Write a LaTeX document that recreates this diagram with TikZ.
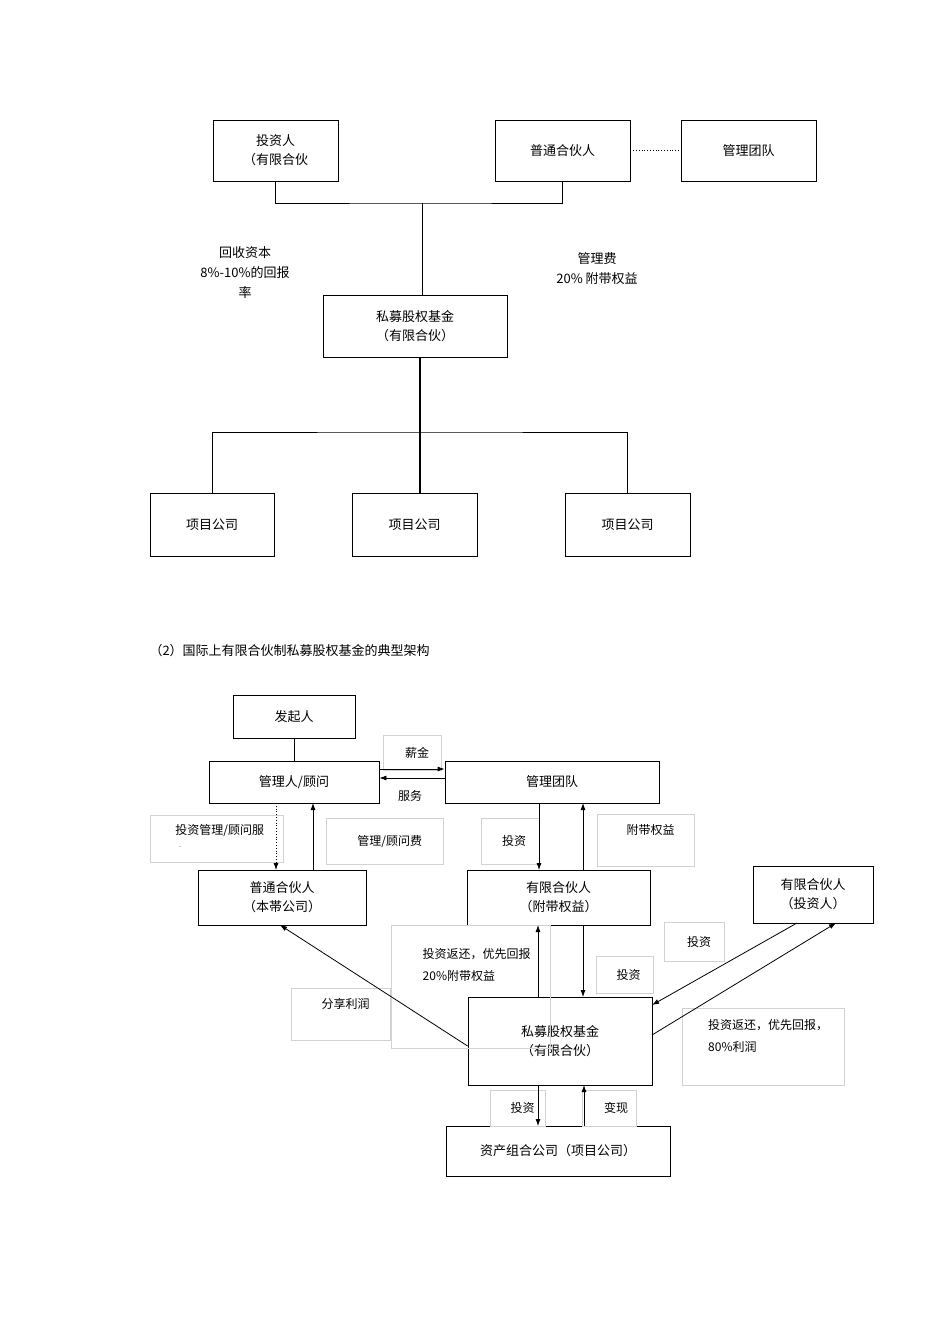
\documentclass[tikz,border=0pt]{standalone}
\usepackage{fontspec}
\setmainfont{Noto Sans CJK SC}
\usetikzlibrary{arrows.meta}
\begin{document}
\begin{tikzpicture}[x=1pt,y=-1pt,
  bx/.style={draw,thick,minimum width=#1,inner sep=0pt,font=\fontsize{13}{19}\selectfont,align=center},
  lb/.style={draw=gray!35,anchor=north west,inner sep=0pt,font=\fontsize{12}{22}\selectfont},
  t/.style={font=\fontsize{13}{20}\selectfont,align=center},
  ar/.style={-{Latex[length=7pt,width=5pt]},thick}]
\useasboundingbox (0,0) rectangle (950,1344);
% top diagram
\node[bx=125pt,minimum height=61pt] (inv) at (275.5,150.5) {投资人\\（有限合伙};
\node[bx=135pt,minimum height=61pt] (gp) at (562.5,150.5) {普通合伙人};
\node[bx=135pt,minimum height=61pt] (mt) at (748.5,150.5) {管理团队};
\draw[dotted,thick] (gp.east) -- (mt.west);
\node[bx=184pt,minimum height=62pt] (fund) at (415,326) {私募股权基金\\（有限合伙）};
\coordinate (j1) at (422,203);
\draw (inv.south) |- (j1) -| (gp.south);
\draw (j1) -- (j1|-fund.north);
\node[t] (l1) at (245,273) {回收资本\\8\%-10\%的回报\\率};
\node[t] (l2) at (597,269) {管理费\\20\% 附带权益};
\node[bx=124pt,minimum height=63pt] (p1) at (212,524.5) {项目公司};
\node[bx=125pt,minimum height=63pt] (p2) at (414.5,524.5) {项目公司};
\node[bx=125pt,minimum height=63pt] (p3) at (627.5,524.5) {项目公司};
\coordinate (j2) at (420,432);
\draw[line width=2pt] (420,357) -- (420,493);
\draw (p1.north) |- (j2) -| (p3.north);
% caption
\node[anchor=west,font=\fontsize{13}{15}\selectfont] (cap) at (146,651) {（2）国际上有限合伙制私募股权基金的典型架构};
% bottom diagram
\node[bx=122pt,minimum height=43pt] (fq) at (294,716.5) {发起人};
\node[bx=170pt,minimum height=42pt] (gl) at (294,782) {管理人/顾问};
\node[bx=214pt,minimum height=42pt] (td) at (552,782) {管理团队};
\draw (fq) -- (gl);
\node[bx=168pt,minimum height=55pt] (pt) at (282,897.5) {普通合伙人\\（本帯公司）};
\node[bx=183pt,minimum height=55pt] (lp1) at (558.5,897.5) {有限合伙人\\（附带权益）};
\node[bx=120pt,minimum height=57pt] (lp2) at (813,894.5) {有限合伙人\\（投资人）};
\node[bx=184pt,minimum height=88pt] (pe) at (560,1041) {私募股权基金\\（有限合伙）};
\node[bx=224pt,minimum height=50pt] (zc) at (558,1151) {资产组合公司（项目公司）};
% label boxes
\node[lb,minimum width=58pt,minimum height=35pt] (b1) at (383,735) {\hspace{10pt}薪金};
\node[t,font=\fontsize{12}{14}\selectfont] (b2) at (410,796) {服务};
\node[lb,minimum width=133pt,minimum height=47pt,align=left] (b3) at (150,815) {\hspace{6pt}投资管理/顾问服\\[-4pt]\hspace{10pt}\raisebox{4pt}{\tiny -}};
\node[lb,minimum width=117pt,minimum height=46pt] (b4) at (326,818) {\hspace{10pt}管理/顾问费};
\node[lb,minimum width=58pt,minimum height=46pt] (b5) at (481,818) {\hspace{8pt}投资};
\node[lb,minimum width=97pt,minimum height=52pt,align=left] (b6) at (597,814) {\hspace{10pt}附带权益\\ \ };
\node[lb,minimum width=99pt,minimum height=52pt,align=left] (b7) at (291,988) {\hspace{10pt}分享利润\\ \ };
\node[lb,minimum width=159pt,minimum height=123pt,align=left] (b8) at (391,925) {\hspace{12pt}投资返还，优先回报\\\hspace{12pt}20\%附带权益\\ \\ \ };
\node[lb,minimum width=57pt,minimum height=37pt] (b9) at (596,956) {\hspace{8pt}投资};
\node[lb,minimum width=60pt,minimum height=39pt] (b10) at (664,922) {\hspace{10pt}投资};
\node[lb,minimum width=162pt,minimum height=77pt,align=left] (b11) at (682,1008) {\hspace{10pt}投资返还，优先回报，\\\hspace{10pt}80\%利润\\ \ };
\node[lb,minimum width=55pt,minimum height=36pt] (b12) at (490,1090) {\hspace{10pt}投资};
\node[lb,minimum width=54pt,minimum height=36pt] (b13) at (582,1090) {\hspace{14pt}变现};
% arrows
\draw[ar] (gl.east|-0,769) -- (td.west|-0,769);
\draw[ar] (td.west|-0,778) -- (gl.east|-0,778);
\draw[ar,dotted] (276,803) -- (276,870);
\draw[ar] (313,870) -- (313,803);
\draw[ar] (539,803) -- (539,870);
\draw[ar] (583,870) -- (583,803);
\draw[ar] (pe.west|-0,1046) -- (280,925);
\draw[ar] (538,997) -- (538,925);
\draw[ar] (583,925) -- (583,997);
\draw[ar] (797,923) -- (652,1005);
\draw[ar] (652,1035) -- (836,923);
\draw[ar] (538,1085) -- (538,1126);
\draw[ar] (584,1126) -- (584,1085);
\end{tikzpicture}
\end{document}
